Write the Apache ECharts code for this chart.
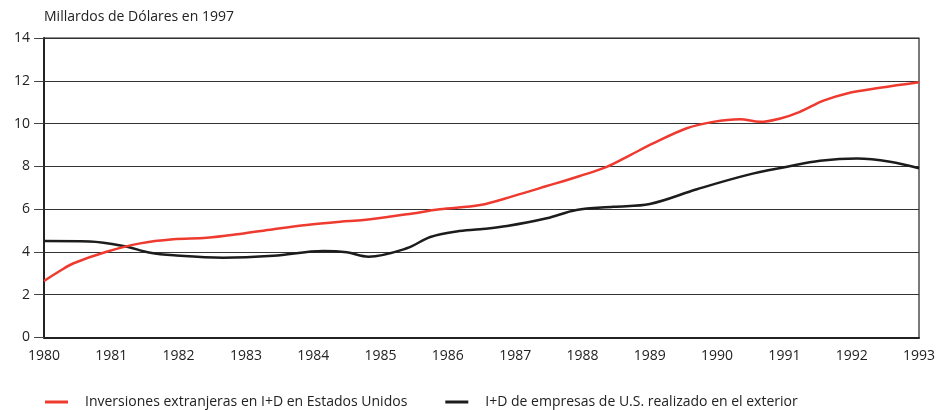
<!DOCTYPE html>
<html><head><meta charset="utf-8">
<script src="https://cdn.jsdelivr.net/npm/echarts@6/dist/echarts.min.js"></script>
<style>html,body{margin:0;padding:0;background:#fff}#c{width:951px;height:410px}</style>
</head><body><div id="c"></div>
<script>
const yAxisTitle = 'Millardos de Dólares en 1997';
const seriesNames = ['Inversiones extranjeras en I+D en Estados Unidos', 'I+D de empresas de U.S. realizado en el exterior'];
const redYears = [1980.0, 1980.24, 1980.44, 1980.93, 1981.43, 1981.92, 1982.42, 1982.91, 1983.41, 1983.90, 1984.40, 1984.75, 1985.39, 1985.88, 1986.48, 1986.97, 1987.47, 1987.96, 1988.36, 1988.71, 1989.05, 1989.55, 1989.94, 1990.34, 1990.64, 1990.94, 1991.23, 1991.58, 1991.93, 1992.42, 1993.0];
const redValues = [2.64, 3.12, 3.47, 4.01, 4.40, 4.59, 4.66, 4.84, 5.06, 5.26, 5.41, 5.49, 5.76, 5.99, 6.19, 6.61, 7.08, 7.55, 7.98, 8.53, 9.07, 9.78, 10.08, 10.20, 10.08, 10.24, 10.55, 11.07, 11.41, 11.67, 11.93];
const blackYears = [1980.0, 1980.68, 1981.18, 1981.58, 1981.93, 1982.66, 1983.41, 1984.15, 1984.50, 1984.82, 1985.39, 1985.74, 1986.13, 1986.48, 1986.88, 1987.47, 1987.91, 1988.46, 1989.00, 1989.70, 1990.44, 1991.04, 1991.53, 1992.08, 1992.57, 1993.0];
const blackValues = [4.51, 4.49, 4.28, 3.96, 3.84, 3.73, 3.82, 4.04, 3.98, 3.78, 4.17, 4.70, 4.96, 5.06, 5.21, 5.57, 5.96, 6.11, 6.24, 6.93, 7.59, 7.98, 8.26, 8.37, 8.22, 7.91];

const FONT = 'Open Sans';
const chart = echarts.init(document.getElementById('c'));
chart.setOption({
  animation: false,
  textStyle: {fontFamily: FONT},
  title: {text: yAxisTitle, left: 39, top: 5, textStyle: {fontFamily: FONT, fontSize: 14, fontWeight: 'normal', color: '#222'}},
  grid: {left: 44, right: 32, top: 38, bottom: 72.5, show: true, borderColor: '#222', borderWidth: 1.2, containLabel: false},
  legend: {
    left: 40, top: 390, itemGap: 38, itemWidth: 23, itemHeight: 3, icon: 'rect',
    textStyle: {fontFamily: FONT, fontSize: 14, color: '#222', padding: [0, 0, 0, 12]},
    data: seriesNames
  },
  xAxis: {
    type: 'value', min: 1980, max: 1993, interval: 1,
    axisLine: {show: true, lineStyle: {color: '#222', width: 2}},
    axisTick: {show: false},
    splitLine: {show: false},
    axisLabel: {margin: 12, fontSize: 14, color: '#222', fontFamily: FONT, formatter: v => String(v)}
  },
  yAxis: {
    type: 'value', min: 0, max: 14, interval: 2,
    axisLine: {show: true, lineStyle: {color: '#222', width: 2}},
    axisTick: {show: true, inside: false, length: 10, lineStyle: {color: '#444', width: 1}},
    splitLine: {show: true, lineStyle: {color: '#333', width: 1.2}},
    axisLabel: {margin: 14, fontSize: 14, color: '#222', fontFamily: FONT}
  },
  series: [
    {name: seriesNames[0], type: 'line', smooth: 0.35, symbol: 'none', color: '#ee3a2f',
     lineStyle: {width: 2.5, color: '#ee3a2f'}, z: 3,
     data: redYears.map((y, i) => [y, redValues[i]])},
    {name: seriesNames[1], type: 'line', smooth: 0.35, symbol: 'none', color: '#1c1c1c',
     lineStyle: {width: 2.5, color: '#1c1c1c'}, z: 2,
     data: blackYears.map((y, i) => [y, blackValues[i]])}
  ]
});
</script></body></html>
